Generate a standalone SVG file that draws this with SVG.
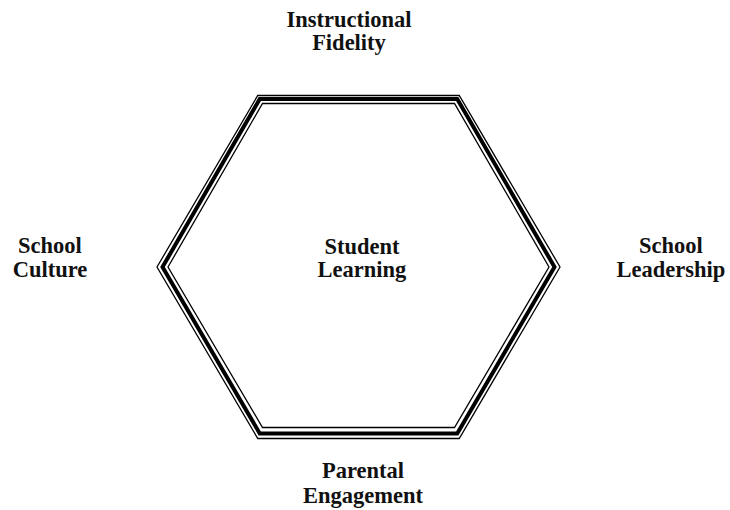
<svg xmlns="http://www.w3.org/2000/svg" width="730" height="510" viewBox="0 0 730 510">
<style>
.lbl{font-family:"Liberation Serif","Times New Roman",serif;font-weight:bold;font-size:22.5px;fill:#111;text-anchor:middle}
.hex{fill:none;stroke:#000;stroke-linejoin:miter}
.thin{stroke-width:1.3}
.thick{stroke-width:4}
</style>
<rect width="730" height="510" fill="#fff"/>
<g id="connectors"></g>
<g id="hexagon">
<polygon class="hex thin" points="157,267 257.75,95.5 459.25,95.5 560,267 459.25,438.5 257.75,438.5"/>
<polygon class="hex thick" points="162.5,267 259.75,99 457.25,99 554.5,267 457.25,433.5 259.75,433.5"/>
<polygon class="hex thin" points="168,267 262.5,103.5 454.5,103.5 549,267 454.5,427.5 262.5,427.5"/>
</g>
<g id="student-learning">
<text class="lbl" x="362" y="254">Student</text>
<text class="lbl" x="362" y="277">Learning</text>
</g>
<g id="instructional-fidelity">
<text class="lbl" x="349" y="27">Instructional</text>
<text class="lbl" x="349" y="50">Fidelity</text>
</g>
<g id="school-culture">
<text class="lbl" x="50" y="253">School</text>
<text class="lbl" x="50" y="277">Culture</text>
</g>
<g id="school-leadership">
<text class="lbl" x="671" y="253">School</text>
<text class="lbl" x="671" y="277">Leadership</text>
</g>
<g id="parental-engagement">
<text class="lbl" x="363" y="478">Parental</text>
<text class="lbl" x="363" y="503">Engagement</text>
</g>
</svg>
